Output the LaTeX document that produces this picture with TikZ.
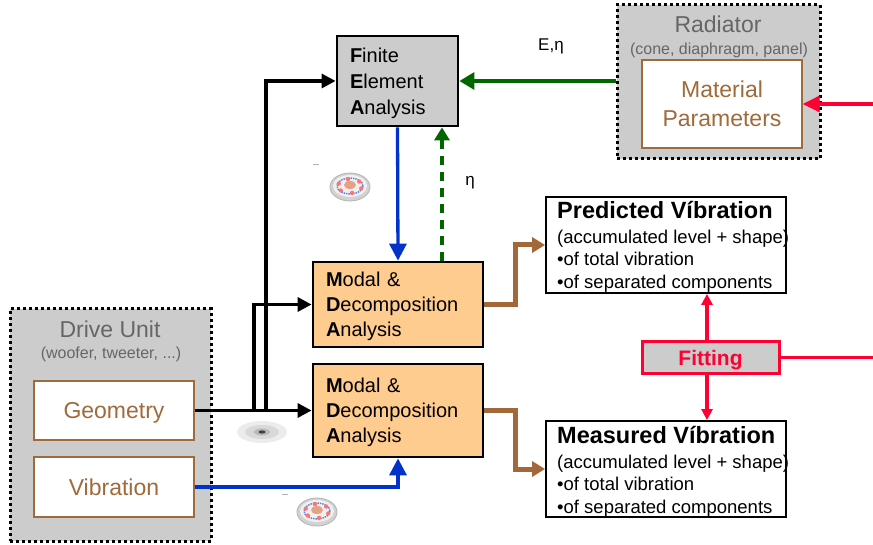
\documentclass[tikz,border=0pt]{standalone}
\usepackage{fontspec}
\setmainfont{Liberation Sans}
\usetikzlibrary{arrows.meta}

\definecolor{boxgray}{HTML}{CCCCCC}
\definecolor{grouptext}{HTML}{666666}
\definecolor{paramBrown}{HTML}{A06A3A}
\definecolor{flowBrown}{HTML}{A3683A}
\definecolor{mdaOrange}{HTML}{FFCC90}
\definecolor{feGreen}{HTML}{006600}
\definecolor{modeBlue}{HTML}{0033CC}
\definecolor{fitRed}{HTML}{FF0033}

% first-line strut that balances the descender of the last line
\newcommand{\toplift}{\rule{0pt}{19pt}}

\tikzset{
  group/.style={draw=black, line width=3pt, dash pattern=on 3pt off 3pt, fill=boxgray},
  grouptitle/.style={text=grouptext, font=\fontsize{23}{27}\selectfont, inner sep=0pt},
  groupsub/.style={text=grouptext, font=\fontsize{16}{19}\selectfont, inner sep=0pt},
  param/.style={draw=paramBrown, line width=1.3pt, fill=white, text=paramBrown,
    font=\fontsize{23}{29.5}\selectfont, align=center},
  febox/.style={draw=black, line width=2.8pt, fill=boxgray, align=left,
    font=\fontsize{20}{26}\selectfont, inner xsep=13pt},
  mdabox/.style={draw=black, line width=2.8pt, fill=mdaOrange, align=left,
    font=\fontsize{20}{25}\selectfont, inner xsep=13pt},
  resbox/.style={draw=black, line width=1.8pt, fill=white},
  restitle/.style={anchor=base west, inner sep=0pt, font=\fontsize{23.5}{27}\selectfont\bfseries},
  restext/.style={anchor=base west, inner sep=0pt, font=\fontsize{18.5}{22}\selectfont},
  fitbox/.style={draw=fitRed, line width=3pt, fill=boxgray, text=fitRed,
    font=\fontsize{21}{25}\selectfont\bfseries, text depth=0pt},
  lbl/.style={font=\fontsize{17}{20}\selectfont, inner sep=0pt},
  blkarr/.style={draw=black, line width=3.2pt, -{Triangle[length=14pt,width=14pt]}},
  bluearr/.style={draw=modeBlue, line width=3.3pt, -{Triangle[length=17pt,width=17pt]}},
  greenarr/.style={draw=feGreen, line width=3.3pt, -{Triangle[length=15pt,width=17pt]}},
  greendash/.style={draw=feGreen, line width=3.2pt, dash pattern=on 9pt off 7pt,
    -{Triangle[length=13pt,width=15pt]}},
  brownarr/.style={draw=flowBrown, line width=5pt, -{Triangle[length=13pt,width=15pt]}},
  redarr/.style={draw=fitRed, line width=3.2pt, -{Triangle[length=11pt,width=11pt]}},
  redbig/.style={draw=fitRed, line width=3.2pt, -{Triangle[length=17pt,width=16pt]}},
  redline/.style={draw=fitRed, line width=3.2pt},
  spkcolor/.pic={
    \fill[gray!35] (0,0) ellipse (20 and 14);
    \fill[gray!12] (0,-1) ellipse (17 and 11);
    \draw[modeBlue!65, line width=1.4pt, densely dotted] (0,-1) ellipse (13 and 8);
    \foreach \a in {20,80,140,200,260,320}
      \fill[red!55] ({12*cos(\a)},{-1+7*sin(\a)}) circle (2.2);
    \fill[brown!45!pink] (0,-2) ellipse (6 and 4);
    \draw[gray!60, line width=0.8pt] (0,0) ellipse (20 and 14);
  },
  spkgray/.pic={
    \fill[gray!15] (0,0) ellipse (25 and 11);
    \fill[gray!30] (0,0) ellipse (17 and 7);
    \fill[gray!55] (0,0) ellipse (8 and 3.5);
    \fill[black!75] (0,0) ellipse (3.5 and 1.6);
  }
}

\begin{document}
\begin{tikzpicture}[x=1pt,y=-1pt]
\useasboundingbox (0,0) rectangle (873,545);

% Radiator group with its material parameters
\node[group, minimum width=203pt, minimum height=154pt] (rad) at (718.5,82) {};
\node[grouptitle] (radT) at (718,24) {Radiator};
\node[groupsub] (radS) at (719,50) {(cone, diaphragm, panel)};
\node[param, minimum width=160pt, minimum height=88pt] (mat) at (722,104) {Material\\Parameters};

% Drive unit group with geometry and vibration inputs
\node[group, minimum width=201pt, minimum height=232pt] (du) at (110.5,425) {};
\node[grouptitle] (duT) at (110,329) {Drive Unit};
\node[groupsub] (duS) at (111,354.5) {(woofer, tweeter, ...)};
\node[param, minimum width=160pt, minimum height=59pt, text depth=0pt] (geo) at (114,410.5) {Geometry};
\node[param, minimum width=160pt, minimum height=60pt, text depth=0pt] (vib) at (114,487) {Vibration};

% Analysis blocks
\node[febox, minimum width=121pt, minimum height=90pt, text width=95pt] (fea) at (397.5,81)
  {\toplift\textbf{F}inite\\\textbf{E}lement\\\textbf{A}nalysis};
\node[mdabox, minimum width=170pt, minimum height=85pt, text width=144pt] (mda1) at (398,304.5)
  {\toplift\textbf{M}odal \&\\\textbf{D}ecomposition\\\textbf{A}nalysis};
\node[mdabox, minimum width=170pt, minimum height=93pt, text width=144pt] (mda2) at (398,410.5)
  {\toplift\textbf{M}odal \&\\\textbf{D}ecomposition\\\textbf{A}nalysis};

% Result boxes
\node[resbox, minimum width=240pt, minimum height=96pt] (pred) at (666,245) {};
\node[restitle] (pv1) at (557,219) {Predicted Víbration};
\node[restext] (pv2) at (557,244) {(accumulated level + shape)};
\node[restext] (pv3) at (557,266) {•of total vibration};
\node[restext] (pv4) at (557,289) {•of separated components};

\node[resbox, minimum width=240pt, minimum height=96pt] (meas) at (666,469) {};
\node[restitle] (mv1) at (557,443) {Measured Víbration};
\node[restext] (mv2) at (557,468) {(accumulated level + shape)};
\node[restext] (mv3) at (557,490) {•of total vibration};
\node[restext] (mv4) at (557,513) {•of separated components};

\node[fitbox, minimum width=137pt, minimum height=32pt] (fit) at (710.5,357.5) {Fitting};

% Helper points
\coordinate (j1) at (254,410.5);
\coordinate (j2) at (266,410.5);
\coordinate (gx) at (442,0);
\coordinate (fx) at (707,0);
\coordinate (redin) at (873,104);
\coordinate (redout) at (873,357.5);

% Geometry feeds
\draw[blkarr] (geo.east) -- (mda2.west);
\draw[blkarr] (j2) |- (fea.west);
\draw[blkarr] (j1) |- (mda1.west);

% Mode data
\draw[bluearr] (fea.south) -- (mda1.north);
\draw[bluearr] (vib.east) -| (mda2.south);

% Material data exchange
\draw[greenarr] (rad.west |- fea.east) -- (fea.east);
\draw[greendash] (mda1.north -| gx) -- (fea.south -| gx);
\node[lbl] (eeta) at (551,46) {E,η};
\node[lbl] (eta) at (470,183) {η};

% Results
\draw[brownarr] (mda1.east) -- ++(31,0) |- (pred.west);
\draw[brownarr] (mda2.east) -- ++(31,0) |- (meas.west);

% Fitting loop
\draw[redarr] (fit.north -| fx) -- (pred.south -| fx);
\draw[redarr] (fit.south -| fx) -- (meas.north -| fx);
\draw[redline] (fit.east) -- (redout);
\draw[redbig] (redin) -- (mat.east);

% Loudspeaker sketches
\pic at (350,187) {spkcolor};
\pic at (317,512) {spkcolor};
\pic at (262,432) {spkgray};
\draw[gray!60, line width=0.7pt] (313,164) -- (319,164);
\draw[gray!60, line width=0.7pt] (282,494) -- (288,494);
\end{tikzpicture}
\end{document}
